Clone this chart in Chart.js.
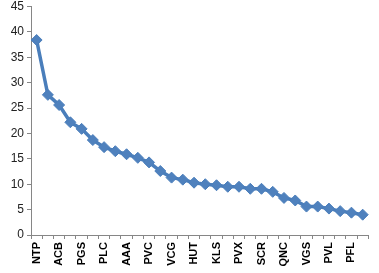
<!DOCTYPE html>
<html lang="en">
<head>
  <meta charset="UTF-8">
  <title>Ticker values</title>
  <script src="https://cdn.jsdelivr.net/npm/chart.js"></script>
  <style>
    html, body {
      margin: 0;
      padding: 0;
      background: #ffffff;
    }
    #wrap {
      width: 379px;
      height: 273px;
    }
  </style>
</head>
<body>
  <div id="wrap"><canvas id="tickerChart"></canvas></div>

  <script>
    // only every other category name is readable in the original, the rest stay blank
    const tickers = [
      'NTP', '', 'ACB', '', 'PGS', '', 'PLC', '', 'AAA', '',
      'PVC', '', 'VCG', '', 'HUT', '', 'KLS', '', 'PVX', '',
      'SCR', '', 'QNC', '', 'VGS', '', 'PVL', '', 'PFL', ''
    ];
    const values = [
      38.4, 27.6, 25.6, 22.2, 20.9, 18.7, 17.3, 16.5, 15.9, 15.2,
      14.3, 12.6, 11.3, 10.9, 10.3, 10.0, 9.8, 9.5, 9.5, 9.1,
      9.1, 8.5, 7.3, 6.8, 5.6, 5.6, 5.2, 4.7, 4.4, 4.0
    ];
    const yMin = 0;
    const yMax = 45;
    const yStep = 5;

    const axisColor = '#868686';
    const seriesColor = '#4A7EBB';

    new Chart(document.getElementById('tickerChart'), {
      type: 'line',
      data: {
        labels: tickers,
        datasets: [{
          data: values,
          borderColor: seriesColor,
          backgroundColor: seriesColor,
          borderWidth: 3.5,
          pointStyle: 'rectRot',
          pointRadius: 5.5,
          pointBorderWidth: 1,
          pointBackgroundColor: '#4F81BD',
          pointBorderColor: seriesColor,
          tension: 0
        }]
      },
      options: {
        responsive: true,
        maintainAspectRatio: false,
        animation: false,
        layout: { padding: { left: 0, top: 4, right: 3, bottom: 0 } },
        plugins: {
          legend: { display: false },
          tooltip: { enabled: false }
        },
        scales: {
          x: {
            offset: true,
            grid: {
              offset: true,
              drawOnChartArea: false,
              drawTicks: true,
              tickLength: 4,
              color: axisColor
            },
            border: { color: axisColor, width: 1 },
            ticks: {
              autoSkip: false,
              maxRotation: 90,
              minRotation: 90,
              padding: 3,
              color: '#000',
              font: { family: 'Liberation Sans', size: 11, weight: 'bold' },
              callback: function (value, index) {
                return index % 2 === 0 ? this.getLabelForValue(value) : '';
              }
            },
            afterFit: function (scale) { scale.height = 38; }
          },
          y: {
            min: yMin,
            max: yMax,
            grid: {
              drawOnChartArea: false,
              drawTicks: true,
              tickLength: 4,
              color: axisColor
            },
            border: { color: axisColor, width: 1 },
            ticks: {
              stepSize: yStep,
              padding: 3,
              color: '#222',
              font: { family: 'Liberation Sans', size: 12 }
            },
            afterFit: function (scale) {
              scale.width = 31;
              scale.paddingTop = 0;
            }
          }
        }
      }
    });
  </script>
</body>
</html>
